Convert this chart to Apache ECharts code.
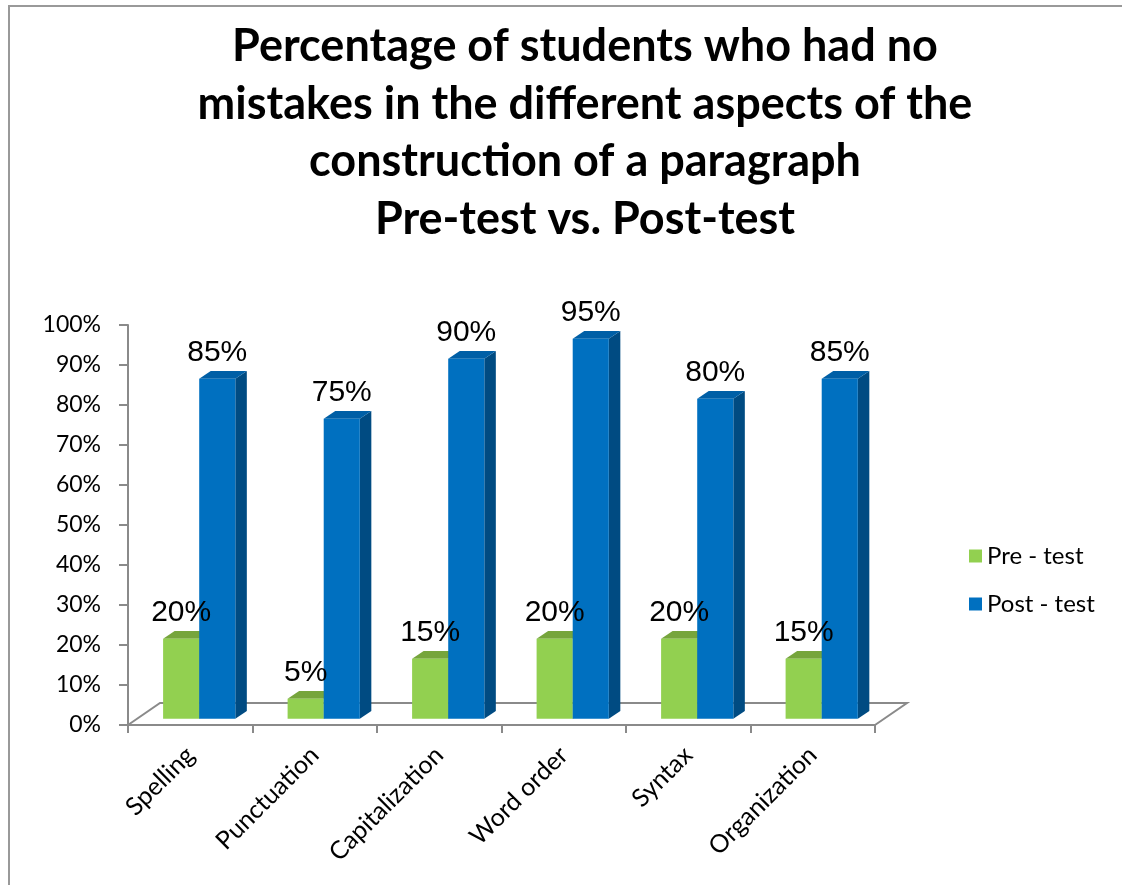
<!DOCTYPE html>
<html>
<head>
<meta charset="utf-8">
<script src="https://cdn.jsdelivr.net/npm/echarts@6/dist/echarts.min.js"></script>
<style>
  html, body { margin: 0; padding: 0; background: #ffffff; }
  #chart { width: 1122px; height: 885px; }
</style>
</head>
<body>
<div id="chart"></div>
<script>
// Aspects of paragraph construction and the share of students with no mistakes (%)
const categories = ['Spelling', 'Punctuation', 'Capitalization', 'Word order', 'Syntax', 'Organization'];
const preTest = [20, 5, 15, 20, 20, 15];
const postTest = [85, 75, 90, 95, 80, 85];
const seriesNames = ['Pre - test', 'Post - test'];
const yAxisMin = 0;
const yAxisMax = 100;
const yAxisStep = 10;

// Pseudo-3D look: floor depth vector and where the bars sit inside it
const DEPTH = [32, -22];
const BAR_NEAR = 0.28;
const BAR_FAR = 0.64;
const BAR_FRACTION = 0.29;
const AXIS_GREY = '#8a8a8a';
const UI_FONT = 'Lato, "Open Sans", "Noto Sans", sans-serif';

const palette = {
  pre:  { front: '#92d050', top: '#76a53c', side: '#6c9a36' },
  post: { front: '#0070c0', top: '#005fa6', side: '#004b82' }
};

function barGeometry(api, cat, val, side) {
  const band = api.size([1, 0])[0];
  const w = band * BAR_FRACTION;
  const base = api.coord([cat, 0]);
  const top = api.coord([cat, val]);
  const nx = DEPTH[0] * BAR_NEAR, ny = DEPTH[1] * BAR_NEAR;
  const fx = DEPTH[0] * (BAR_FAR - BAR_NEAR), fy = DEPTH[1] * (BAR_FAR - BAR_NEAR);
  const x0 = base[0] + nx + (side === 0 ? -w : 0);
  return { x0, w, yTop: top[1] + ny, yBot: base[1] + ny, fx, fy };
}

function makeBarRenderer(side, colors) {
  return function (params, api) {
    const g = barGeometry(api, api.value(0), api.value(1), side);
    const { x0, w, yTop, yBot, fx, fy } = g;
    return {
      type: 'group',
      children: [
        {
          type: 'polygon',
          shape: { points: [[x0 + w, yTop], [x0 + w + fx, yTop + fy], [x0 + w + fx, yBot + fy], [x0 + w, yBot]] },
          style: { fill: colors.side }
        },
        {
          type: 'polygon',
          shape: { points: [[x0, yTop], [x0 + w, yTop], [x0 + w + fx, yTop + fy], [x0 + fx, yTop + fy]] },
          style: { fill: colors.top }
        },
        {
          type: 'rect',
          shape: { x: x0, y: yTop, width: w, height: yBot - yTop },
          style: { fill: colors.front }
        }
      ]
    };
  };
}

function makeLabelRenderer(side) {
  return function (params, api) {
    const val = api.value(1);
    const g = barGeometry(api, api.value(0), val, side);
    return {
      type: 'text',
      style: {
        x: g.x0 + g.w / 2,
        y: g.yTop + g.fy - 3,
        text: val + '%',
        align: 'center',
        verticalAlign: 'bottom',
        fill: '#000000',
        font: '30px "Liberation Sans", Arial, sans-serif'
      }
    };
  };
}

// Floor outline: front edge is the category axis, the rest recedes by DEPTH
function renderFloor(params) {
  const cs = params.coordSys;
  const fl = [cs.x, cs.y + cs.height];
  const fr = [cs.x + cs.width, cs.y + cs.height];
  return {
    type: 'polyline',
    shape: { points: [fl, [fl[0] + DEPTH[0], fl[1] + DEPTH[1]], [fr[0] + DEPTH[0], fr[1] + DEPTH[1]], fr] },
    style: { stroke: AXIS_GREY, lineWidth: 2, fill: null }
  };
}

const preData = preTest.map((v, i) => [i, v]);
const postData = postTest.map((v, i) => [i, v]);

const chart = echarts.init(document.getElementById('chart'), null, { renderer: 'canvas' });
chart.setOption({
  backgroundColor: '#ffffff',
  animation: false,
  title: {
    text: 'Percentage of students who had no\nmistakes in the different aspects of the\nconstruction of a paragraph\nPre-test vs. Post-test',
    left: 580,
    top: 13,
    textAlign: 'center',
    textStyle: {
      fontFamily: UI_FONT,
      fontWeight: 'bold',
      fontSize: 45,
      lineHeight: 57.5,
      color: '#000000'
    }
  },
  legend: {
    orient: 'vertical',
    left: 964,
    top: 539,
    itemWidth: 13,
    itemHeight: 13,
    itemGap: 24,
    icon: 'rect',
    data: seriesNames,
    textStyle: { fontFamily: UI_FONT, fontSize: 24, color: '#000000' }
  },
  grid: { left: 128, right: 247, top: 325, bottom: 160, outerBoundsMode: 'none' },
  xAxis: {
    type: 'category',
    data: categories,
    boundaryGap: true,
    axisLine: { lineStyle: { color: AXIS_GREY, width: 2 } },
    axisTick: { show: true, length: 8, lineStyle: { color: AXIS_GREY, width: 2 } },
    axisLabel: {
      rotate: 45,
      interval: 0,
      margin: 26,
      fontFamily: UI_FONT,
      fontSize: 25,
      color: '#000000'
    },
    splitLine: { show: false }
  },
  yAxis: {
    type: 'value',
    min: yAxisMin,
    max: yAxisMax,
    interval: yAxisStep,
    axisLine: { show: true, lineStyle: { color: AXIS_GREY, width: 2 } },
    axisTick: { show: true, length: 9, lineStyle: { color: AXIS_GREY, width: 2 } },
    axisLabel: {
      formatter: '{value}%',
      margin: 27,
      fontFamily: UI_FONT,
      fontSize: 23,
      color: '#000000'
    },
    splitLine: { show: false }
  },
  graphic: [
    {
      type: 'rect',
      shape: { x: 9, y: 6, width: 1300, height: 1000 },
      style: { fill: null, stroke: '#999999', lineWidth: 2 },
      silent: true,
      z: -1
    }
  ],
  series: [
    {
      type: 'custom',
      name: 'floor',
      data: [[0, 0]],
      renderItem: renderFloor,
      z: 1,
      silent: true
    },
    {
      type: 'custom',
      name: seriesNames[0],
      data: preData,
      itemStyle: { color: palette.pre.front },
      renderItem: makeBarRenderer(0, palette.pre),
      z: 2
    },
    {
      type: 'custom',
      name: seriesNames[1],
      data: postData,
      itemStyle: { color: palette.post.front },
      renderItem: makeBarRenderer(1, palette.post),
      z: 3
    },
    {
      type: 'custom',
      name: 'pre-labels',
      data: preData,
      renderItem: makeLabelRenderer(0),
      z: 5,
      silent: true
    },
    {
      type: 'custom',
      name: 'post-labels',
      data: postData,
      renderItem: makeLabelRenderer(1),
      z: 5,
      silent: true
    }
  ]
});
</script>
</body>
</html>
